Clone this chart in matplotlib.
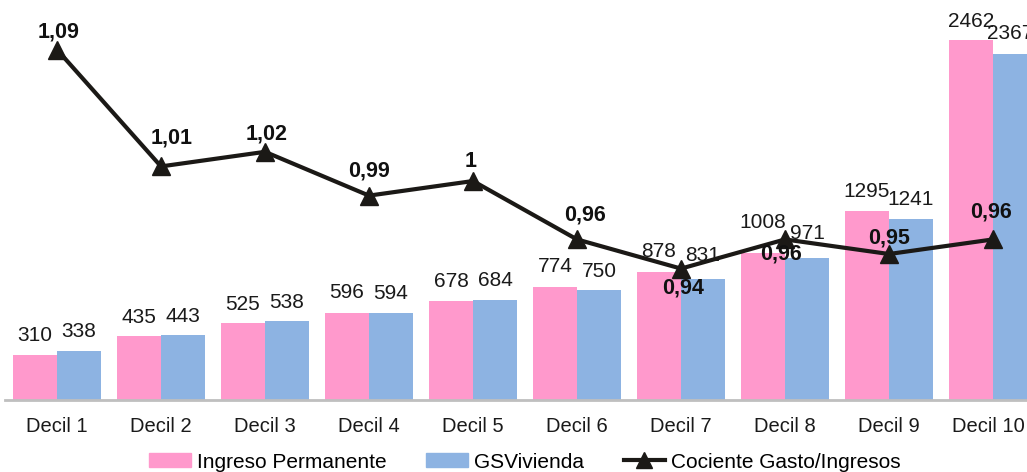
import matplotlib
matplotlib.use("Agg")
import matplotlib.pyplot as plt
import matplotlib.transforms as mtransforms
from matplotlib.lines import Line2D
from matplotlib.patches import Patch

plt.rcParams['font.family'] = ['Liberation Sans', 'DejaVu Sans']

# Data
deciles = ["Decil 1", "Decil 2", "Decil 3", "Decil 4", "Decil 5",
           "Decil 6", "Decil 7", "Decil 8", "Decil 9", "Decil 10"]
ingreso_permanente = [310, 435, 525, 596, 678, 774, 878, 1008, 1295, 2462]
gs_vivienda = [338, 443, 538, 594, 684, 750, 831, 971, 1241, 2367]
cociente = [1.09, 1.01, 1.02, 0.99, 1.00, 0.96, 0.94, 0.96, 0.95, 0.96]
cociente_labels = ["1,09", "1,01", "1,02", "0,99", "1", "0,96", "0,94", "0,96", "0,95", "0,96"]

# Label offsets (pixels) for the ratio line labels
line_label_dx = [2, 11, 2, 0, -2, 8, 2, -4, 0, -2]
line_label_dy = [18, 28, 18, 25, 20, 24, -19, -15, 16, 27]
# Label offsets (pixels) for the bar value labels
pink_dy = [19, 19, 19, 20, 19, 20, 20, 30, 19, 19]
blue_dx = [0, 0, 0, 0, 0, 0, 0, 0, 0, -5]
blue_dy = [19, 19, 19, 20, 19, 19, 23, 25, 19, 20]

PINK = "#FF99CC"
BLUE = "#8DB3E2"
LINE = "#1b1916"

W, H, DPI = 1027, 472, 100
fig = plt.figure(figsize=(W / DPI, H / DPI), dpi=DPI)
px = 72.0 / DPI  # points per pixel

ax = fig.add_axes([5 / W, 72 / H, 1 - 5 / W, 400 / H])
x = list(range(len(deciles)))
bw = 0.423
xp = [i - bw / 2 for i in x]
xb = [i + bw / 2 for i in x]
ax.bar(xp, ingreso_permanente, width=bw, color=PINK, zorder=2)
ax.bar(xb, gs_vivienda, width=bw, color=BLUE, zorder=2)

ax.set_xlim(-0.5, 9.327)
ax.set_ylim(0, 2736)
ax.set_yticks([])
for s in ["top", "left", "right"]:
    ax.spines[s].set_visible(False)
ax.spines["bottom"].set_color("#BFBFBF")
ax.spines["bottom"].set_linewidth(2)
ax.set_xticks(x)
ax.set_xticklabels(deciles, fontsize=14.5, color="#1a1a1a")
ax.tick_params(axis="x", length=0, pad=12)

# Nudge the last category label inward so it stays within the figure
last = ax.get_xticklabels()[-1]
last.set_transform(last.get_transform() +
                   mtransforms.ScaledTranslation(-5 / DPI, 0, fig.dpi_scale_trans))

for i in x:
    ax.annotate(str(ingreso_permanente[i]), (xp[i], ingreso_permanente[i]),
                xytext=(0, pink_dy[i] * px), textcoords="offset points",
                ha="center", va="center", fontsize=15, color="#1a1a1a")
    ax.annotate(str(gs_vivienda[i]), (xb[i], gs_vivienda[i]),
                xytext=(blue_dx[i] * px, blue_dy[i] * px), textcoords="offset points",
                ha="center", va="center", fontsize=15, color="#1a1a1a")

ax2 = ax.twinx()
ax2.set_ylim(0.85, 1.124)
ax2.set_yticks([])
for s in ax2.spines.values():
    s.set_visible(False)
ax2.plot(x, cociente, color=LINE, linewidth=3, marker="^", markersize=13,
         markerfacecolor=LINE, markeredgecolor=LINE, zorder=3)
for i in x:
    ax2.annotate(cociente_labels[i], (x[i], cociente[i]),
                 xytext=(line_label_dx[i] * px, line_label_dy[i] * px),
                 textcoords="offset points", ha="center", va="center",
                 fontsize=15.5, fontweight="bold", color="#111111")

handles = [
    Patch(facecolor=PINK, edgecolor=PINK),
    Patch(facecolor=BLUE, edgecolor=BLUE),
    Line2D([0], [0], color=LINE, linewidth=3, marker="^", markersize=11,
           markerfacecolor=LINE, markeredgecolor=LINE),
]
fig.legend(handles, ["Ingreso Permanente", "GSVivienda", "Cociente Gasto/Ingresos"],
           loc="center", bbox_to_anchor=(525 / W, 10 / H), ncol=3, frameon=False,
           fontsize=15, handlelength=2.0, handleheight=0.65, handletextpad=0.3,
           columnspacing=1.9, numpoints=1, borderaxespad=0, borderpad=0)

fig.savefig("out.png", dpi=DPI)
